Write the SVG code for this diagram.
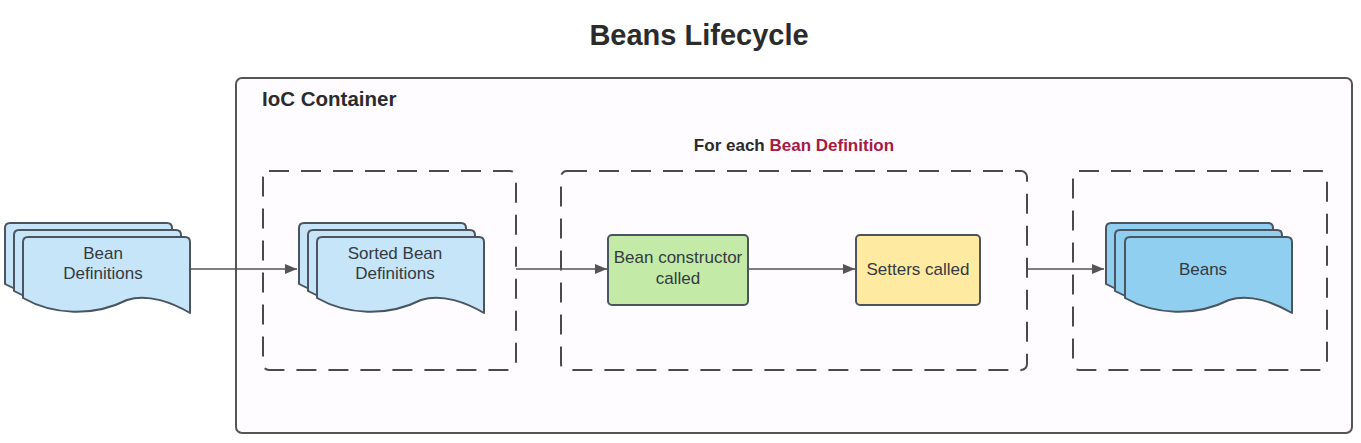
<svg xmlns="http://www.w3.org/2000/svg" width="1361" height="443" viewBox="0 0 1361 443">
<style>
  .t{font-family:"Liberation Sans",Arial,sans-serif;fill:#333a40;font-size:17px;text-anchor:middle}
  .b{font-weight:bold;fill:#2b2b2b}
  .doc{stroke:#4a5560;stroke-width:2;stroke-linejoin:round}
  .lb{fill:#c6e5f8}
  .db{fill:#90cff0}
  .dash{fill:none;stroke:#4a4a4a;stroke-width:2;stroke-dasharray:20 12}
  .conn{stroke:#555;stroke-width:1.5;fill:none}
</style>
<defs>
  <path id="d" d="M0,5 Q0,0 5,0 H162 Q167,0 167,5 V76 C150,66 125,56 104,63 C70,80 30,78 0,61 Z"/>
  <marker id="ah" markerWidth="12" markerHeight="10" refX="12" refY="5" orient="auto" markerUnits="userSpaceOnUse">
    <path d="M0,0 L12,5 L0,10 Z" fill="#555"/>
  </marker>
</defs>
<rect width="1361" height="443" fill="#ffffff"/>
<text class="t b" x="699" y="45" style="font-size:29px">Beans Lifecycle</text>
<g id="ioc">
  <rect x="236" y="78" width="1116" height="355" rx="6" fill="#fefcfe" stroke="#555" stroke-width="2"/>
  <text class="t b" x="262" y="106" style="font-size:20.5px;text-anchor:start">IoC Container</text>
</g>
<g id="group1"><rect class="dash" x="263" y="171" width="253" height="199" rx="6"/></g>
<g id="group2">
  <rect class="dash" x="561" y="171" width="466" height="199" rx="6"/>
  <text class="t b" x="794" y="151"><tspan>For each </tspan><tspan style="fill:#a51a43">Bean Definition</tspan></text>
</g>
<g id="group3"><rect class="dash" x="1073" y="171" width="254" height="199" rx="6"/></g>
<g id="bean-definitions">
  <use href="#d" class="doc lb" x="5" y="223"/>
  <use href="#d" class="doc lb" x="14" y="230"/>
  <use href="#d" class="doc lb" x="23" y="237"/>
  <text class="t" x="103" y="259">Bean</text>
  <text class="t" x="103" y="279">Definitions</text>
</g>
<g id="sorted-bean-definitions">
  <use href="#d" class="doc lb" x="299" y="223"/>
  <use href="#d" class="doc lb" x="308" y="230"/>
  <use href="#d" class="doc lb" x="317" y="237"/>
  <text class="t" x="395" y="259">Sorted Bean</text>
  <text class="t" x="395" y="279">Definitions</text>
</g>
<g id="bean-constructor">
  <rect x="608" y="235" width="140" height="70" rx="4" fill="#c4eaa8" stroke="#4a5560" stroke-width="2"/>
  <text class="t" x="678" y="263">Bean constructor</text>
  <text class="t" x="678" y="284">called</text>
</g>
<g id="setters">
  <rect x="856" y="235" width="124" height="70" rx="4" fill="#ffeaa2" stroke="#4a5560" stroke-width="2"/>
  <text class="t" x="918" y="275">Setters called</text>
</g>
<g id="beans">
  <use href="#d" class="doc db" x="1106" y="223"/>
  <use href="#d" class="doc db" x="1115" y="230"/>
  <use href="#d" class="doc db" x="1125" y="237"/>
  <text class="t" x="1203" y="275">Beans</text>
</g>
<g id="connectors">
  <line class="conn" x1="190" y1="269" x2="297" y2="269" marker-end="url(#ah)"/>
  <line class="conn" x1="516" y1="269" x2="607" y2="269" marker-end="url(#ah)"/>
  <line class="conn" x1="748" y1="269" x2="855" y2="269" marker-end="url(#ah)"/>
  <line class="conn" x1="1027" y1="269" x2="1104" y2="269" marker-end="url(#ah)"/>
</g>
</svg>
